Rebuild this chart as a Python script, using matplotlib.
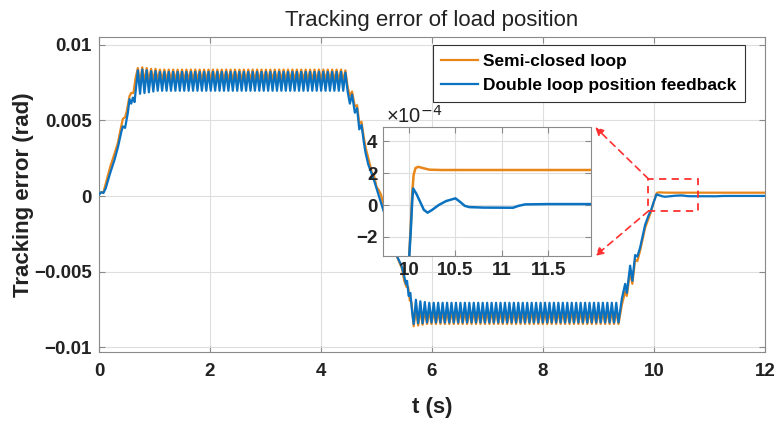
import numpy as np
import matplotlib
matplotlib.use("Agg")
import matplotlib.pyplot as plt
from matplotlib.patches import Rectangle, ConnectionPatch

plt.rcParams['font.family'] = ['Liberation Sans', 'DejaVu Sans']

# ---------------- data (values in mrad = 1e-3 rad) ----------------
series_names = ["Semi-closed loop", "Double loop position feedback"]

# start-up segment
orange_start_t = [0.00, 0.04, 0.08, 0.12, 0.20, 0.28, 0.34, 0.40, 0.43, 0.47, 0.50, 0.55, 0.58, 0.62, 0.66]
orange_start_v = [0.15, 0.25, 0.25, 0.80, 1.90, 2.80, 3.50, 4.60, 5.10, 5.20, 5.60, 6.60, 6.80, 6.80, 7.80]
blue_start_t = [0.00, 0.04, 0.08, 0.12, 0.20, 0.28, 0.34, 0.40, 0.43, 0.47, 0.52, 0.55, 0.58, 0.61, 0.64]
blue_start_v = [0.10, 0.25, 0.20, 0.50, 1.50, 2.40, 3.20, 4.20, 4.60, 4.50, 5.50, 6.40, 6.10, 6.50, 6.20]

# ripple on the positive plateau (peaks / troughs, alternating, starts with a peak)
plateau1_t = [0.70, 4.44]
orange_p1_peaks = [8.45, 8.50, 8.45, 8.40, 8.40, 8.35, 8.35, 8.35, 8.35, 8.35,
                   8.35, 8.35, 8.35, 8.35, 8.35, 8.35, 8.35, 8.35, 8.35, 8.35,
                   8.35, 8.35, 8.35, 8.35, 8.35, 8.35, 8.35, 8.35, 8.35, 8.35,
                   8.35, 8.35, 8.35, 8.35, 8.35, 8.35, 8.35, 8.35, 8.35, 8.35,
                   8.35, 8.35, 8.35, 8.35, 8.35, 8.35, 8.35, 8.30]
orange_p1_troughs = [7.45, 7.50, 7.55, 7.60, 7.60, 7.60, 7.60, 7.60, 7.60, 7.60,
                     7.60, 7.60, 7.60, 7.60, 7.60, 7.60, 7.60, 7.60, 7.60, 7.60,
                     7.60, 7.60, 7.60, 7.60, 7.60, 7.60, 7.60, 7.60, 7.60, 7.60,
                     7.60, 7.60, 7.60, 7.60, 7.60, 7.60, 7.60, 7.60, 7.60, 7.60,
                     7.60, 7.60, 7.60, 7.60, 7.60, 7.60, 7.60]
blue_p1_peaks = [8.30, 8.35, 8.30, 8.25, 8.25, 8.20, 8.20, 8.20, 8.20, 8.20,
                 8.20, 8.20, 8.20, 8.20, 8.20, 8.20, 8.20, 8.20, 8.20, 8.20,
                 8.20, 8.20, 8.20, 8.20, 8.20, 8.20, 8.20, 8.20, 8.20, 8.20,
                 8.20, 8.20, 8.20, 8.20, 8.20, 8.20, 8.20, 8.20, 8.20, 8.20,
                 8.20, 8.20, 8.20, 8.20, 8.20, 8.20, 8.20, 8.15]
blue_p1_troughs = [6.75, 6.80, 6.85, 6.90, 6.95, 6.95, 6.95, 6.95, 6.95, 6.95,
                   6.95, 6.95, 6.95, 6.95, 6.95, 6.95, 6.95, 6.95, 6.95, 6.95,
                   6.95, 6.95, 6.95, 6.95, 6.95, 6.95, 6.95, 6.95, 6.95, 6.95,
                   6.95, 6.95, 6.95, 6.95, 6.95, 6.95, 6.95, 6.95, 6.95, 6.95,
                   6.95, 6.95, 6.95, 6.95, 6.95, 6.95, 6.95]

# descent segment
orange_desc_t = [4.48, 4.52, 4.56, 4.61, 4.65, 4.69, 4.73, 4.77, 4.81, 4.86, 4.92, 4.96, 5.00, 5.04, 5.08,
                 5.14, 5.22, 5.30, 5.38, 5.46, 5.50, 5.54, 5.57, 5.60, 5.63]
orange_desc_v = [7.20, 6.60, 6.90, 5.90, 6.00, 4.80, 4.90, 3.90, 3.10, 2.40, 1.50, 1.30, 0.60, 0.40, 0.10,
                 -0.80, -1.90, -3.00, -4.10, -4.80, -5.60, -6.00, -6.00, -6.90, -7.00]
blue_desc_t = [4.48, 4.52, 4.56, 4.61, 4.65, 4.69, 4.73, 4.77, 4.80, 4.85, 4.90, 4.95, 5.00, 5.06, 5.12,
               5.20, 5.28, 5.36, 5.45, 5.50, 5.53, 5.55, 5.58, 5.61, 5.64]
blue_desc_v = [6.90, 6.10, 6.70, 5.50, 5.80, 4.40, 4.70, 3.60, 2.90, 2.10, 1.60, 1.10, 0.50, -0.20, -0.90,
               -1.80, -2.90, -3.90, -4.60, -5.30, -5.80, -5.60, -6.60, -6.40, -7.60]

# ripple on the negative plateau (troughs / peaks, alternating, starts with a trough)
plateau2_t = [5.67, 9.36]
orange_p2_troughs = [-8.60, -8.55, -8.50, -8.45, -8.45, -8.45, -8.45, -8.45, -8.45, -8.45,
                     -8.45, -8.45, -8.45, -8.45, -8.45, -8.45, -8.45, -8.45, -8.45, -8.45,
                     -8.45, -8.45, -8.45, -8.45, -8.45, -8.45, -8.45, -8.45, -8.45, -8.45,
                     -8.45, -8.45, -8.45, -8.45, -8.45, -8.45, -8.45, -8.45, -8.45, -8.45,
                     -8.45, -8.45, -8.45, -8.45, -8.45, -8.45, -8.45]
orange_p2_peaks = [-7.45, -7.55, -7.60, -7.60, -7.60, -7.60, -7.60, -7.60, -7.60, -7.60,
                   -7.60, -7.60, -7.60, -7.60, -7.60, -7.60, -7.60, -7.60, -7.60, -7.60,
                   -7.60, -7.60, -7.60, -7.60, -7.60, -7.60, -7.60, -7.60, -7.60, -7.60,
                   -7.60, -7.60, -7.60, -7.60, -7.60, -7.60, -7.60, -7.60, -7.60, -7.60,
                   -7.60, -7.60, -7.60, -7.60, -7.60, -7.60]
blue_p2_troughs = [-8.45, -8.40, -8.40, -8.35, -8.35, -8.35, -8.35, -8.35, -8.35, -8.35,
                   -8.35, -8.35, -8.35, -8.35, -8.35, -8.35, -8.35, -8.35, -8.35, -8.35,
                   -8.35, -8.35, -8.35, -8.35, -8.35, -8.35, -8.35, -8.35, -8.35, -8.35,
                   -8.35, -8.35, -8.35, -8.35, -8.35, -8.35, -8.35, -8.35, -8.35, -8.35,
                   -8.35, -8.35, -8.35, -8.35, -8.35, -8.35, -8.35]
blue_p2_peaks = [-6.85, -6.95, -7.00, -7.05, -7.05, -7.05, -7.05, -7.05, -7.05, -7.05,
                 -7.05, -7.05, -7.05, -7.05, -7.05, -7.05, -7.05, -7.05, -7.05, -7.05,
                 -7.05, -7.05, -7.05, -7.05, -7.05, -7.05, -7.05, -7.05, -7.05, -7.05,
                 -7.05, -7.05, -7.05, -7.05, -7.05, -7.05, -7.05, -7.05, -7.05, -7.05,
                 -7.05, -7.05, -7.05, -7.05, -7.05, -7.05]

# rise and settling segment
orange_rise_t = [9.42, 9.48, 9.51, 9.57, 9.61, 9.66, 9.70, 9.75, 9.84, 9.90, 9.95, 10.00, 10.02, 10.035,
                 10.05, 10.07, 10.10, 10.15, 10.22, 10.35, 12.00]
orange_rise_v = [-7.20, -6.30, -6.60, -5.00, -5.80, -4.20, -4.30, -3.60, -2.10, -1.50, -1.00, -0.34, -0.12, 0.08,
                 0.19, 0.232, 0.240, 0.232, 0.222, 0.220, 0.220]
blue_rise_t = [9.42, 9.48, 9.51, 9.57, 9.61, 9.66, 9.70, 9.75, 9.84, 9.90, 9.95, 9.99, 10.02, 10.035,
               10.045, 10.08, 10.12, 10.16, 10.20, 10.25, 10.32, 10.40, 10.50, 10.55, 10.60, 10.65,
               10.80, 11.00, 11.12, 11.18, 11.25, 11.50, 12.00]
blue_rise_v = [-6.80, -5.80, -6.40, -4.60, -5.60, -3.90, -4.00, -3.40, -1.90, -1.30, -0.90, -0.45, -0.15, 0.03,
               0.104, 0.070, 0.020, -0.030, -0.048, -0.030, 0.000, 0.025, 0.042, 0.020, -0.005, -0.013,
               -0.016, -0.017, -0.017, -0.005, 0.004, 0.006, 0.006]

# zoom box (main-axes data coordinates) and axis settings
zoom_box_t = [9.9, 10.8]
zoom_box_v = [-0.99e-3, 1.13e-3]
main_xticks = [0, 2, 4, 6, 8, 10, 12]
main_yticks = [-0.01, -0.005, 0, 0.005, 0.01]
main_yticklabels = ['\u22120.01', '\u22120.005', '0', '0.005', '0.01']
inset_xticks = [10, 10.5, 11, 11.5]
inset_xticklabels = ['10', '10.5', '11', '11.5']
inset_yticks = [-2, 0, 2, 4]
inset_yticklabels = ['\u22122', '0', '2', '4']


def interleave(first, second):
    out = []
    for i in range(max(len(first), len(second))):
        if i < len(first):
            out.append(first[i])
        if i < len(second):
            out.append(second[i])
    return out


def build(st, sv, p1t, p1a, p1b, dt, dv, p2t, p2a, p2b, rt, rv):
    r1 = interleave(p1a, p1b)
    r2 = interleave(p2a, p2b)
    t = np.concatenate([st, np.linspace(p1t[0], p1t[1], len(r1)), dt,
                        np.linspace(p2t[0], p2t[1], len(r2)), rt])
    v = np.concatenate([sv, r1, dv, r2, rv])
    return t, v


t_o, v_o = build(orange_start_t, orange_start_v, plateau1_t, orange_p1_peaks, orange_p1_troughs,
                 orange_desc_t, orange_desc_v, plateau2_t, orange_p2_troughs, orange_p2_peaks,
                 orange_rise_t, orange_rise_v)
t_b, v_b = build(blue_start_t, blue_start_v, plateau1_t, blue_p1_peaks, blue_p1_troughs,
                 blue_desc_t, blue_desc_v, plateau2_t, blue_p2_troughs, blue_p2_peaks,
                 blue_rise_t, blue_rise_v)

C_OR = '#E8861A'
C_BL = '#0A72C0'
GRID = '#dedede'
SPINE = '#8a8a8a'
TXT = '#222222'

fig = plt.figure(figsize=(7.8, 4.29), dpi=100)
ax = fig.add_axes([99 / 780, 1 - 352 / 429, 666 / 780, 315 / 429])

ax.plot(t_o, v_o * 1e-3, color=C_OR, lw=1.6, label=series_names[0], zorder=3)
ax.plot(t_b, v_b * 1e-3, color=C_BL, lw=1.6, label=series_names[1], zorder=4)
ax.set_xlim(0, 12)
ax.set_ylim(-0.0103, 0.0105)
ax.set_xticks(main_xticks)
ax.set_yticks(main_yticks)
ax.set_yticklabels(main_yticklabels)
ax.grid(True, color=GRID, lw=0.8, zorder=0)
ax.set_axisbelow(True)
for s in ax.spines.values():
    s.set_color(SPINE)
    s.set_linewidth(0.8)
ax.tick_params(direction='in', top=True, right=True, length=4, color=SPINE,
               labelsize=13.5, labelcolor=TXT)
ax.tick_params(axis='y', pad=5)
ax.tick_params(axis='x', pad=8)
for lab in ax.get_xticklabels() + ax.get_yticklabels():
    lab.set_fontweight('bold')
ax.set_title('Tracking error of load position', fontsize=16, color=TXT, pad=8)
ax.set_xlabel('t (s)', fontsize=16, fontweight='bold', color=TXT, labelpad=12)
ax.set_ylabel('Tracking error (rad)', fontsize=16, fontweight='bold', color=TXT)
ax.yaxis.set_label_coords(-0.098, 0.5)

leg = ax.legend(loc='upper right', bbox_to_anchor=(0.970, 0.975),
                prop={'weight': 'bold', 'size': 12.5}, frameon=True, fancybox=False,
                edgecolor='#333333', framealpha=1, handlelength=2.1, borderpad=0.5,
                labelspacing=0.55, handletextpad=0.3, borderaxespad=0)
leg.get_frame().set_linewidth(0.8)
leg.set_zorder(10)

rect = Rectangle((zoom_box_t[0], zoom_box_v[0]), zoom_box_t[1] - zoom_box_t[0],
                 zoom_box_v[1] - zoom_box_v[0], fill=False, ec='#ff3030', lw=1.3,
                 ls=(0, (4, 3)), zorder=6)
ax.add_patch(rect)

# inset
axi = fig.add_axes([383 / 780, 1 - 256 / 429, 208 / 780, 129 / 429])
axi.plot(t_o, v_o * 10, color=C_OR, lw=1.8, zorder=3)
axi.plot(t_b, v_b * 10, color=C_BL, lw=1.8, zorder=4)
axi.set_xlim(9.72, 11.96)
axi.set_ylim(-3.2, 4.9)
axi.set_xticks(inset_xticks)
axi.set_xticklabels(inset_xticklabels)
axi.set_yticks(inset_yticks)
axi.set_yticklabels(inset_yticklabels)
axi.grid(True, color=GRID, lw=0.8)
axi.set_axisbelow(True)
axi.set_facecolor('white')
for s in axi.spines.values():
    s.set_color(SPINE)
    s.set_linewidth(0.8)
axi.tick_params(direction='in', top=True, right=True, length=4, color=SPINE,
                labelsize=13.5, labelcolor=TXT, pad=4)
for lab in axi.get_xticklabels() + axi.get_yticklabels():
    lab.set_fontweight('bold')
axi.text(0.015, 1.005, '\u00d710$^{\u22124}$', transform=axi.transAxes, fontsize=14.5,
         color=TXT, ha='left', va='bottom')

for (xa, ya), yb in [((zoom_box_t[0], zoom_box_v[1]), 1.0), ((zoom_box_t[0], zoom_box_v[0]), 0.0)]:
    con = ConnectionPatch(xyA=(xa, ya), coordsA=ax.transData,
                          xyB=(1.02, yb), coordsB=axi.transAxes,
                          arrowstyle='-|>', mutation_scale=12, color='#ff3030',
                          lw=1.2, ls=(0, (4, 3)))
    fig.add_artist(con)

fig.savefig('out.png', dpi=100)
